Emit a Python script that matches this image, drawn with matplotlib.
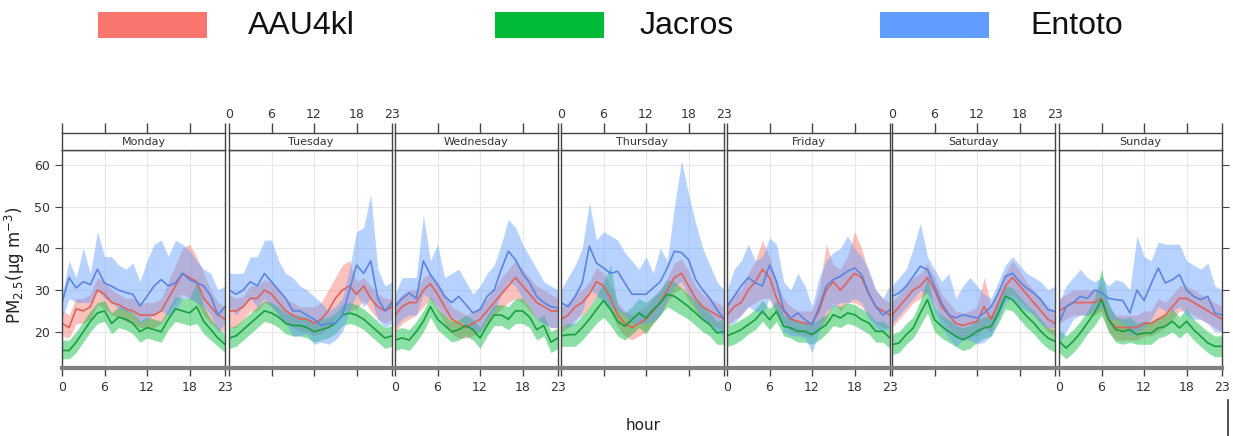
import matplotlib.pyplot as plt
from matplotlib.patches import Rectangle
from matplotlib.lines import Line2D

days = ['Monday', 'Tuesday', 'Wednesday', 'Thursday', 'Friday', 'Saturday', 'Sunday']
hours = list(range(24))
hour_ticks = [0, 6, 12, 18, 23]
y_ticks = [20, 30, 40, 50, 60]
sites = ['AAU4kl', 'Jacros', 'Entoto']

# AAU4kl hourly means and confidence band, one list per weekday
aau_mean = [
    [22, 21, 25.5, 25, 26, 30, 29, 27, 26.5, 25.5, 25, 24, 24, 24, 25, 28, 31, 34, 33, 32, 28, 26, 24, 23],
    [25, 25, 26, 28, 28, 30, 29, 27, 25, 24, 23, 23, 22, 23, 25, 28, 30, 31, 29, 31, 28, 26, 25, 26],
    [24, 26, 27, 27, 30, 31.5, 29, 26, 23, 22, 21, 22, 23, 25, 27, 29, 31, 33, 31, 29, 27, 26, 25, 25],
    [23, 24, 26, 27, 29, 32, 31, 28, 24, 22, 21, 22, 23, 25, 27, 30, 33, 34, 31, 28, 26, 25, 24, 23],
    [24, 26, 27, 30, 32, 35, 33, 28, 25, 23, 22.5, 22, 22, 25, 30, 32, 30, 32, 34, 33, 29, 26, 25, 24],
    [24, 26, 28, 30, 31, 33, 30, 26, 24, 22, 21.5, 22, 22.5, 26, 23, 27, 31, 33, 31, 29, 27, 25, 23, 22],
    [25, 26, 27, 27, 27, 27, 28, 23, 21, 21, 21, 21, 22, 22, 23, 24, 26, 28, 28, 27, 26, 25, 24, 23],
]
aau_hi = [
    [25, 24, 28, 28, 29, 33, 32, 30, 29, 28, 28, 27, 27, 27, 28, 32, 36, 40, 41, 38, 34, 30, 27, 26],
    [29, 28, 28.5, 31, 31, 32.5, 32, 30, 28, 27, 26, 26, 26, 27, 30, 33, 36, 37, 32, 33, 31, 29, 28, 28],
    [27, 29, 30, 30, 33, 34, 32, 29, 26, 25, 24, 25, 26, 28, 30, 33, 35, 37, 35, 33, 31, 30, 29, 28],
    [26, 27, 29, 30, 32, 35.5, 34, 31, 27, 25, 24, 25, 26, 28, 30, 33, 36.5, 37.5, 34.5, 31, 29, 28, 27, 26],
    [27, 29, 30, 34, 37, 42, 38, 32, 28, 26, 25, 25, 25, 30, 41, 36, 35, 38, 44, 40, 34, 30, 28, 27],
    [27, 29, 31, 33, 34, 36.5, 33, 29, 27, 25, 24.5, 25, 26, 33, 26, 30, 34, 37, 34.5, 32, 30, 28, 26, 25],
    [28, 29, 30, 30, 30, 30, 31, 26, 24, 24, 24, 24, 25, 25, 28, 27, 29, 31, 31, 30, 29, 28, 27, 26],
]
aau_lo = [
    [19, 18.5, 22, 22, 23, 26.5, 25.5, 24, 23.5, 22.5, 22, 21, 21, 21, 22, 24.5, 27, 29, 28, 27, 24, 22, 20.5, 20],
    [21, 21, 23, 25, 25, 27, 26, 24, 22, 21, 20, 20, 19, 19.5, 21, 23, 25, 25, 25.5, 27.5, 25, 23, 22, 23],
    [20, 22, 23, 24, 26, 28, 25, 22, 19.5, 18.5, 18.5, 19, 20, 22, 24, 25.5, 27, 28, 27, 25, 23, 22, 21, 21],
    [20, 21, 23, 24, 26, 28.5, 28, 25, 21, 19, 18, 19, 20, 22, 24, 27, 29.5, 30.5, 27.5, 25, 23, 22, 21, 20],
    [21, 23, 24, 26, 27, 28, 28, 24, 22, 20, 19.5, 19, 19, 20.5, 23, 27, 25, 27, 27, 26, 24, 22, 21, 21],
    [21, 23, 25, 27, 28, 29.5, 27, 23, 21, 19, 18.5, 19, 19, 21, 20, 24, 28, 29, 27.5, 26, 24, 22, 20, 19],
    [22, 23, 24, 24, 24, 24, 25, 20, 18, 18, 18, 18, 19, 19, 20, 21, 23, 25, 25, 24, 23, 22, 21, 20],
]

# Jacros
jac_mean = [
    [15.5, 15.5, 17.5, 20, 22.5, 24.5, 25, 22, 23.5, 23, 22, 20, 21, 20.5, 20, 23, 25.5, 25, 24.5, 26, 22.5, 20.5, 18.5, 17],
    [18.5, 19, 20.5, 22, 23.5, 25, 24.5, 23.5, 22, 21.5, 21.5, 21, 20, 20.5, 21, 22, 24, 24.5, 24, 23, 21.5, 20, 18.5, 19],
    [18, 18.5, 18, 20, 22.5, 26, 23, 21.5, 20, 20.5, 21.5, 20.5, 18.5, 21.5, 24, 24, 23, 25, 25, 23.5, 20.5, 21.5, 17.5, 18.5],
    [19, 19.3, 19.3, 21, 23, 25.3, 27.5, 25.3, 22.5, 21.3, 22.9, 24.5, 23.3, 25.3, 26.9, 29, 28.5, 27.3, 26, 24.5, 22.9, 21.7, 19.7, 20],
    [19, 19.7, 20.5, 21.7, 22.9, 24.9, 22.9, 24.9, 21.3, 20.9, 20.1, 20.1, 19.3, 20.5, 21.7, 24.1, 23.3, 24.5, 24.1, 22.9, 22.1, 20.1, 20.1, 18.5],
    [16.9, 17.3, 19.3, 20.9, 24.5, 27.7, 22.9, 21.3, 20.1, 18.9, 18.1, 18.9, 20.1, 20.9, 21.3, 24.5, 28.5, 27.7, 25.7, 23.7, 22.1, 20.1, 18.5, 17.7],
    [17.7, 16.1, 17.7, 19.7, 22.1, 24.5, 27.7, 22.9, 20.5, 20.1, 20.5, 19.3, 19.7, 19.7, 20.9, 21.3, 22.5, 20.9, 22.5, 20.5, 18.9, 17.3, 16.5, 16.5],
]
jac_hi = [
    [18, 18, 20, 22.5, 25, 27, 27.5, 24.5, 26, 25.5, 24.5, 22.5, 23.5, 23, 22.5, 25.5, 28.5, 28, 28, 32, 26, 23, 21, 19.5],
    [21, 21.5, 23, 24.5, 26, 27.5, 27, 26, 24.5, 24, 24, 23.5, 22.5, 23, 23.5, 24.5, 26.5, 27, 26.5, 25.5, 24, 22.5, 21, 21.5],
    [20.5, 21, 20.5, 22.5, 25, 28.5, 25.5, 24, 22.5, 23, 24, 23, 21, 24, 26.5, 26.5, 26, 28, 28, 26, 23, 24, 20, 21],
    [21.5, 22, 22, 24, 26, 28.5, 32, 36, 26, 24.5, 26, 28, 27, 28.5, 30, 32.5, 32, 30.5, 29, 27.5, 26, 24.5, 22.5, 23],
    [21.5, 22, 23, 24, 25.5, 27.5, 25.5, 27.5, 24, 23.5, 22.5, 22.5, 22, 23, 24, 26.5, 26, 27, 26.5, 25.5, 24.5, 22.5, 22.5, 21],
    [19.5, 20, 22, 23.5, 27.5, 33, 26, 24, 23, 21.5, 21, 21.5, 23, 23.5, 24, 27, 31, 30.5, 28.5, 26.5, 25, 23, 21, 20.5],
    [20.5, 19, 20.5, 22.5, 25, 28, 35, 27, 23.5, 23, 23.5, 22, 22.5, 22.5, 23.5, 24, 25.5, 23.5, 25.5, 23, 21.5, 20, 19, 19],
]
jac_lo = [
    [13.5, 13.5, 15, 17.5, 20, 22, 22.5, 19.5, 21, 20.5, 19.5, 17.5, 18.5, 18, 17.5, 20.5, 22.5, 22, 21.5, 22, 19.5, 18, 16.5, 15],
    [16, 16.5, 18, 19.5, 21, 22.5, 22, 21, 19.5, 19, 19, 18.5, 17.5, 18, 18.5, 19.5, 21.5, 22, 21.5, 20.5, 19, 17.5, 16, 16.5],
    [15.5, 16, 15.5, 17.5, 20, 23.5, 20.5, 19, 17.5, 18, 19, 18, 16, 19, 21.5, 21.5, 20.5, 22, 22, 21, 18, 19, 15, 16],
    [16.5, 16.5, 16.5, 18, 20, 22, 23.5, 21.5, 19, 18, 19.5, 21, 19.5, 22, 24, 26, 25, 24, 23, 21.5, 20, 19, 17, 17],
    [16.5, 17, 18, 19.5, 20.5, 22.5, 20.5, 22.5, 19, 18.5, 17.5, 17.5, 17, 18, 19.5, 21.5, 21, 22, 21.5, 20.5, 19.5, 17.5, 17.5, 16],
    [14.5, 15, 17, 18.5, 21.5, 24.5, 20, 18.5, 17.5, 16.5, 15.5, 16, 17.5, 18.5, 19, 22, 25.5, 25, 23, 21, 19.5, 17.5, 16, 15],
    [15, 13.5, 15, 17, 19.5, 21.5, 24, 20, 17.5, 17, 17.5, 17, 17, 17, 18.5, 19, 20, 18.5, 20, 18, 16.5, 15, 14, 14],
]

# Entoto
ent_mean = [
    [27, 33, 30.5, 32, 31.3, 35, 31.7, 30.9, 30, 29.4, 29, 26.2, 28.5, 31, 32.5, 31, 31.7, 34, 32.5, 31.7, 31, 28.5, 24, 26],
    [30, 29, 30, 32, 31, 34, 32, 30, 28, 25, 25, 24, 23, 21.5, 22, 22, 24, 30, 36, 34, 37, 28, 25, 27],
    [26, 28, 29.3, 28, 37, 33.7, 31.3, 28.5, 27, 28.5, 26.5, 24.5, 25.3, 28.5, 30, 35, 39.3, 37.3, 34, 31.7, 28.5, 27, 26, 25.7],
    [27, 26, 28.5, 31.7, 40.5, 36.5, 35.3, 34, 34.5, 31.7, 29, 29, 29, 30.5, 32, 35.3, 39.3, 39, 37.3, 32.5, 30, 28, 25.3, 23],
    [26, 28.5, 31, 33, 31.7, 31, 36, 32, 25.3, 23.3, 24.5, 22.9, 21.7, 26, 31, 32.5, 33.3, 34.5, 35.3, 33.7, 29.3, 26, 24, 25.3],
    [28.5, 29.3, 30.9, 33.3, 35.7, 34.9, 30.9, 26.9, 24.1, 23.3, 24.1, 23.7, 23.3, 24.5, 26, 29.3, 33.3, 34, 32, 30.5, 29.3, 27.7, 25.3, 24.9],
    [22, 26, 27, 28.5, 28, 30, 29.3, 28, 27.7, 27.5, 24.5, 30, 27.5, 31.5, 35.3, 31.7, 32.5, 33.7, 30, 28.5, 27.7, 28.5, 24.5, 24],
]
ent_hi = [
    [29, 37, 33, 40, 34, 44, 38, 38, 36, 35, 36.5, 32, 37, 41, 42, 38, 42, 41, 39.5, 37, 35, 34, 30, 31],
    [34, 34, 34, 38, 38, 42, 42, 37, 34, 33, 31, 30, 28.5, 27, 25, 26, 28, 35, 44, 45, 53, 35, 31, 32],
    [29, 33, 33, 33, 48, 37, 41, 33, 34, 35, 32, 29, 31, 34, 36, 41, 47, 45, 41, 38, 35, 32, 31, 30],
    [30, 33, 36, 40, 51, 42, 44, 43, 42, 39, 37, 35, 38, 34, 40, 37, 50, 61, 53, 46, 40, 36, 32, 30],
    [30, 35, 37, 41, 37, 38, 42.5, 41, 32, 30, 34, 31, 26, 33, 37, 39, 40, 43, 40, 38, 35, 30, 28, 31],
    [31, 33, 35, 40, 46, 38, 35, 32, 34, 28, 31, 33, 31, 29, 28, 32, 36, 38, 36, 34, 33, 32, 30, 31],
    [27, 31, 33, 35, 33, 32, 33, 31, 32.5, 32, 30, 43, 38, 37, 41.5, 41, 41, 41, 37, 36, 35, 36.5, 31, 30],
]
ent_lo = [
    [23, 28, 27, 27, 27, 30, 28, 27, 25.5, 25, 24.5, 22, 23, 24, 25, 24, 25, 28, 28, 27, 26, 24, 20, 22],
    [26, 24, 26, 28, 26, 28, 26, 24, 22, 19, 19, 19.5, 17, 17.5, 17, 18, 20, 25, 29, 26, 28, 23, 21, 22],
    [21, 23, 24, 24, 29, 28, 26, 24, 23, 23, 21.5, 20.5, 20, 23, 25, 29, 32, 31, 28, 26, 23, 22, 21, 21],
    [22, 21, 22, 25, 30, 29, 27, 26, 25, 24, 22, 22, 22, 22.5, 24, 28, 31, 32, 29, 26, 23, 22, 20, 19],
    [22, 22, 24, 26, 25, 24, 28, 25, 20, 19, 19, 18.5, 15, 20, 25, 26, 27, 27, 28, 27, 23, 21, 20, 21],
    [22, 24, 26, 28, 30, 29, 25, 21, 18.5, 16.5, 18, 18, 17, 17.5, 19, 23, 27, 28, 26, 25, 24, 22, 21, 21],
    [17, 20, 23, 24, 24, 25, 26, 23, 23, 22, 19, 20, 21, 23, 26, 25, 25, 26, 24, 23, 23, 22, 20, 20],
]

colors = ['#F8766D', '#00BA38', '#619CFF']
line_colors = ['#e0625a', '#17a040', '#5a85e0']
series = [(aau_mean, aau_lo, aau_hi), (jac_mean, jac_lo, jac_hi), (ent_mean, ent_lo, ent_hi)]

narrow = ['Liberation Sans Narrow', 'DejaVu Sans']

W, H = 1233, 436
fig = plt.figure(figsize=(W / 100, H / 100), dpi=100)

# panel geometry in pixels
lefts = [62, 229, 395, 561, 727, 892, 1059]
pw = 163
p_top, p_bot = 150, 368
s_top = 133

for i, day in enumerate(days):
    ax = fig.add_axes([lefts[i] / W, (H - p_bot) / H, pw / W, (p_bot - p_top) / H])
    for (m, lo, hi), c, lc in zip(series, colors, line_colors):
        ax.fill_between(hours, lo[i], hi[i], color=c, alpha=0.45, lw=0)
        ax.plot(hours, m[i], color=lc, lw=1.2)
    ax.set_xlim(0, 23)
    ax.set_ylim(11.3, 63.6)
    ax.set_xticks(hour_ticks)
    ax.set_yticks(y_ticks)
    ax.grid(True, color='#e8e8e8', lw=0.8)
    ax.set_axisbelow(True)
    for s in ax.spines.values():
        s.set_color('#444444')
        s.set_linewidth(1.0)
    ax.spines['bottom'].set_color('#808080')
    ax.spines['bottom'].set_linewidth(3)
    ax.tick_params(axis='x', direction='out', length=6, width=1, color='#444444',
                   labelsize=9, labelcolor='#333333', pad=3,
                   labelbottom=(i % 2 == 0))
    for lab in ax.get_xticklabels():
        lab.set_family(narrow)
    if i == 0:
        ax.tick_params(axis='y', direction='out', length=5, color='#444444',
                       labelsize=9, labelcolor='#333333', left=True, labelleft=True)
        for lab in ax.get_yticklabels():
            lab.set_family(narrow)
    elif i == 6:
        ax.tick_params(axis='y', direction='out', length=5, color='#444444',
                       left=False, labelleft=False, right=True)
    else:
        ax.tick_params(axis='y', left=False, labelleft=False)

    # strip with day name and top ticks
    st = fig.add_axes([lefts[i] / W, (H - p_top) / H, pw / W, (p_top - s_top) / H])
    st.set_xlim(0, 23)
    st.set_ylim(0, 1)
    st.set_yticks([])
    st.set_xticks(hour_ticks)
    st.xaxis.tick_top()
    st.tick_params(axis='x', direction='out', length=7, width=1, color='#444444',
                   labelsize=9, labelcolor='#333333', pad=2,
                   labeltop=(i % 2 == 1), bottom=False, labelbottom=False)
    for lab in st.get_xticklabels():
        lab.set_family(narrow)
    for s in st.spines.values():
        s.set_color('#444444')
        s.set_linewidth(1.0)
    st.text(11.5, 0.45, day, ha='center', va='center', fontsize=8,
            family=narrow, color='#333333')

fig.text(15 / W, (H - 265) / H, 'PM$_{2.5}$(μg m$^{-3}$)', rotation=90,
         ha='center', va='center', fontsize=12, color='#222222')
fig.text(643 / W, (H - 425) / H, 'hour', ha='center', va='center',
         fontsize=11, color='#222222')

# legend at top
rect_x = [98, 495, 880]
text_x = [248, 640, 1030]
for name, c, rx, tx in zip(sites, colors, rect_x, text_x):
    fig.patches.append(Rectangle((rx / W, (H - 38) / H), 109 / W, 26 / H,
                                 transform=fig.transFigure, color=c, lw=0))
    fig.text(tx / W, (H - 26) / H, name, ha='left', va='center',
             fontsize=23, family='Liberation Sans', color='#111111')

fig.add_artist(Line2D([1228 / W, 1228 / W], [0, 36 / H], color='#333333', lw=1.2))

fig.savefig('out.png', dpi=100)
